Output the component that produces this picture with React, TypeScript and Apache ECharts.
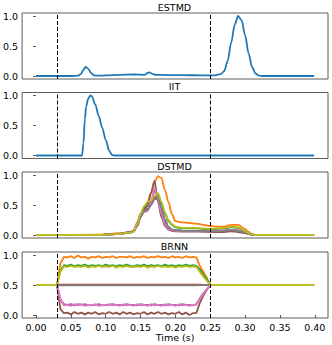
import React, { useEffect, useRef } from "react";
import * as echarts from "echarts";

const COLORS = ["#1f77b4", "#ff7f0e", "#2ca02c", "#d62728", "#9467bd", "#8c564b", "#e377c2", "#7f7f7f", "#bcbd22"];
const TITLES = ["ESTMD", "IIT", "DSTMD", "BRNN"];
const X_TICKS = [0, 0.05, 0.1, 0.15, 0.2, 0.25, 0.3, 0.35, 0.4];
const Y_TICKS = [0, 0.5, 1.0];
const STIM_LINES = [0.03, 0.25];

// ESTMD (time, value)
const estmd: number[][] = [
  [0, 0], [0.05, 0], [0.06, 0.005], [0.064, 0.03], [0.068, 0.1], [0.071, 0.15], [0.075, 0.12],
  [0.079, 0.05], [0.083, 0.01], [0.09, 0.005], [0.1, 0.01], [0.12, 0.02], [0.14, 0.025],
  [0.156, 0.02], [0.16, 0.05], [0.163, 0.06], [0.167, 0.035], [0.172, 0.02], [0.19, 0.015],
  [0.21, 0.015], [0.24, 0.01], [0.255, 0.01], [0.265, 0.03], [0.27, 0.08], [0.275, 0.25],
  [0.28, 0.55], [0.285, 0.85], [0.29, 1.0], [0.295, 0.93], [0.3, 0.68], [0.305, 0.38],
  [0.31, 0.15], [0.315, 0.04], [0.32, 0.005], [0.325, 0], [0.399, 0],
];

// IIT (time, value)
const iit: number[][] = [
  [0, 0], [0.066, 0], [0.068, 0.2], [0.07, 0.6], [0.072, 0.82], [0.075, 0.95], [0.078, 1.0],
  [0.08, 0.99], [0.085, 0.85], [0.09, 0.66], [0.095, 0.46], [0.1, 0.26], [0.105, 0.08],
  [0.109, 0.01], [0.112, 0], [0.399, 0],
];

// DSTMD
const dT = [0, 0.09, 0.12, 0.135, 0.14, 0.145, 0.15, 0.155, 0.16, 0.165, 0.17, 0.175, 0.18, 0.185, 0.19, 0.195, 0.2, 0.21, 0.22, 0.23, 0.24, 0.25, 0.26, 0.27, 0.28, 0.29, 0.3, 0.305, 0.31, 0.315, 0.399];
const dBlue   = [0, 0, 0.02, 0.04, 0.06, 0.15, 0.3, 0.4, 0.42, 0.5, 0.6, 0.62, 0.45, 0.25, 0.13, 0.09, 0.08, 0.07, 0.07, 0.07, 0.06, 0.06, 0.06, 0.07, 0.08, 0.07, 0.04, 0.02, 0.005, 0, 0];
const dOrange = [0, 0.005, 0.03, 0.05, 0.06, 0.15, 0.35, 0.45, 0.55, 0.7, 0.88, 0.98, 0.95, 0.75, 0.55, 0.35, 0.23, 0.21, 0.2, 0.19, 0.17, 0.15, 0.14, 0.14, 0.17, 0.17, 0.1, 0.05, 0.01, 0, 0];
const dGreen  = [0, 0, 0.02, 0.04, 0.06, 0.17, 0.33, 0.46, 0.53, 0.56, 0.63, 0.68, 0.53, 0.36, 0.23, 0.17, 0.13, 0.11, 0.11, 0.11, 0.1, 0.09, 0.1, 0.11, 0.13, 0.12, 0.06, 0.03, 0.01, 0, 0];
const dRed    = [0, 0, 0.02, 0.04, 0.06, 0.15, 0.3, 0.4, 0.43, 0.52, 0.62, 0.6, 0.42, 0.22, 0.12, 0.08, 0.07, 0.07, 0.07, 0.07, 0.06, 0.06, 0.06, 0.07, 0.08, 0.07, 0.04, 0.02, 0.005, 0, 0];
const dPurple = [0, 0, 0.02, 0.04, 0.06, 0.17, 0.32, 0.4, 0.41, 0.53, 0.74, 0.62, 0.36, 0.19, 0.1, 0.08, 0.07, 0.06, 0.06, 0.06, 0.06, 0.06, 0.06, 0.07, 0.08, 0.07, 0.04, 0.02, 0.005, 0, 0];
const dBrown  = [0, 0, 0.02, 0.05, 0.07, 0.2, 0.35, 0.42, 0.48, 0.7, 0.9, 0.55, 0.3, 0.15, 0.09, 0.07, 0.06, 0.06, 0.06, 0.06, 0.06, 0.05, 0.05, 0.05, 0.06, 0.05, 0.03, 0.015, 0.005, 0, 0];
const dPink   = [0, 0, 0.02, 0.04, 0.06, 0.18, 0.32, 0.38, 0.4, 0.55, 0.78, 0.6, 0.35, 0.18, 0.1, 0.08, 0.07, 0.06, 0.06, 0.06, 0.06, 0.06, 0.07, 0.08, 0.09, 0.08, 0.04, 0.02, 0.005, 0, 0];
const dGray   = [0, 0, 0.02, 0.04, 0.06, 0.15, 0.3, 0.4, 0.42, 0.5, 0.6, 0.63, 0.45, 0.25, 0.13, 0.09, 0.08, 0.07, 0.07, 0.07, 0.06, 0.06, 0.06, 0.07, 0.08, 0.07, 0.04, 0.02, 0.005, 0, 0];
const dOlive  = [0, 0, 0.02, 0.04, 0.06, 0.18, 0.35, 0.48, 0.55, 0.58, 0.65, 0.7, 0.55, 0.38, 0.25, 0.18, 0.14, 0.12, 0.12, 0.12, 0.11, 0.1, 0.11, 0.12, 0.14, 0.13, 0.07, 0.03, 0.01, 0, 0];

// BRNN
const bT = [0, 0.03, 0.035, 0.04, 0.045, 0.05, 0.055, 0.06, 0.065, 0.07, 0.075, 0.08, 0.085, 0.09, 0.095, 0.1, 0.105, 0.11, 0.115, 0.12, 0.125, 0.13, 0.135, 0.14, 0.145, 0.15, 0.155, 0.16, 0.165, 0.17, 0.175, 0.18, 0.185, 0.19, 0.195, 0.2, 0.205, 0.21, 0.215, 0.22, 0.225, 0.23, 0.235, 0.24, 0.245, 0.25, 0.399];
const bBlue   = [0.5, 0.5, 0.5, 0.5, 0.5, 0.5, 0.5, 0.5, 0.5, 0.5, 0.5, 0.5, 0.5, 0.5, 0.5, 0.5, 0.5, 0.5, 0.5, 0.5, 0.5, 0.5, 0.5, 0.5, 0.5, 0.5, 0.5, 0.5, 0.5, 0.5, 0.5, 0.5, 0.5, 0.5, 0.5, 0.5, 0.5, 0.5, 0.5, 0.5, 0.5, 0.5, 0.5, 0.5, 0.5, 0.5, 0.5];
const bOrange = [0.5, 0.5, 0.86, 0.97, 0.96, 0.98, 0.95, 0.99, 0.96, 0.97, 0.94, 0.97, 0.96, 0.98, 0.95, 0.97, 0.96, 0.98, 0.95, 0.97, 0.97, 0.96, 0.98, 0.95, 0.97, 0.96, 0.98, 0.95, 0.97, 0.96, 0.98, 0.96, 0.97, 0.95, 0.98, 0.96, 0.97, 0.95, 0.98, 0.96, 0.97, 0.96, 0.82, 0.72, 0.62, 0.5, 0.5];
const bGreen  = [0.5, 0.5, 0.74, 0.83, 0.82, 0.84, 0.81, 0.83, 0.82, 0.84, 0.81, 0.83, 0.82, 0.83, 0.81, 0.84, 0.82, 0.83, 0.81, 0.83, 0.82, 0.84, 0.82, 0.81, 0.83, 0.82, 0.84, 0.81, 0.83, 0.82, 0.83, 0.81, 0.84, 0.82, 0.83, 0.81, 0.83, 0.82, 0.84, 0.82, 0.83, 0.82, 0.76, 0.68, 0.6, 0.5, 0.5];
const bRed    = [0.5, 0.5, 0.506, 0.506, 0.506, 0.506, 0.506, 0.506, 0.506, 0.506, 0.506, 0.506, 0.506, 0.506, 0.506, 0.506, 0.506, 0.506, 0.506, 0.506, 0.506, 0.506, 0.506, 0.506, 0.506, 0.506, 0.506, 0.506, 0.506, 0.506, 0.506, 0.506, 0.506, 0.506, 0.506, 0.506, 0.506, 0.506, 0.506, 0.506, 0.506, 0.506, 0.505, 0.503, 0.502, 0.5, 0.5];
const bPurple = [0.5, 0.5, 0.26, 0.18, 0.17, 0.18, 0.16, 0.18, 0.17, 0.18, 0.16, 0.17, 0.17, 0.18, 0.16, 0.17, 0.17, 0.18, 0.17, 0.17, 0.16, 0.18, 0.17, 0.17, 0.16, 0.18, 0.17, 0.17, 0.16, 0.18, 0.17, 0.17, 0.16, 0.18, 0.17, 0.17, 0.16, 0.18, 0.17, 0.17, 0.16, 0.18, 0.28, 0.36, 0.43, 0.5, 0.5];
const bBrown  = [0.5, 0.5, 0.1, 0.03, 0.04, 0.01, 0.05, 0.02, 0.04, 0.01, 0.04, 0.02, 0.05, 0.01, 0.03, 0.02, 0.05, 0.02, 0.04, 0.01, 0.05, 0.02, 0.04, 0.01, 0.03, 0.02, 0.05, 0.01, 0.04, 0.02, 0.05, 0.02, 0.04, 0.01, 0.03, 0.02, 0.05, 0.01, 0.04, 0.0, 0.03, 0.03, 0.2, 0.32, 0.42, 0.5, 0.5];
const bPink   = [0.5, 0.5, 0.25, 0.16, 0.17, 0.15, 0.18, 0.16, 0.18, 0.15, 0.17, 0.16, 0.18, 0.15, 0.17, 0.16, 0.18, 0.16, 0.17, 0.15, 0.18, 0.16, 0.17, 0.15, 0.18, 0.16, 0.17, 0.15, 0.18, 0.16, 0.17, 0.15, 0.18, 0.16, 0.17, 0.15, 0.18, 0.16, 0.17, 0.15, 0.17, 0.17, 0.27, 0.35, 0.43, 0.5, 0.5];
const bGray   = [0.5, 0.5, 0.496, 0.496, 0.496, 0.496, 0.496, 0.496, 0.496, 0.496, 0.496, 0.496, 0.496, 0.496, 0.496, 0.496, 0.496, 0.496, 0.496, 0.496, 0.496, 0.496, 0.496, 0.496, 0.496, 0.496, 0.496, 0.496, 0.496, 0.496, 0.496, 0.496, 0.496, 0.496, 0.496, 0.496, 0.496, 0.496, 0.496, 0.496, 0.496, 0.496, 0.497, 0.498, 0.499, 0.5, 0.5];
const bOlive  = [0.5, 0.5, 0.72, 0.81, 0.8, 0.82, 0.8, 0.81, 0.8, 0.82, 0.79, 0.81, 0.8, 0.82, 0.8, 0.81, 0.8, 0.82, 0.79, 0.81, 0.8, 0.82, 0.8, 0.8, 0.81, 0.8, 0.82, 0.79, 0.81, 0.8, 0.82, 0.8, 0.81, 0.8, 0.81, 0.79, 0.81, 0.8, 0.82, 0.8, 0.81, 0.8, 0.72, 0.64, 0.57, 0.5, 0.5];

const DSTMD_SERIES = [dBlue, dOrange, dGreen, dRed, dPurple, dBrown, dPink, dGray, dOlive];
const BRNN_SERIES = [bBlue, bOrange, bGreen, bRed, bPurple, bBrown, bPink, bGray, bOlive];

const FONT = "DejaVu Sans";
const GRID_TOPS = [13, 92.5, 172, 252];
const GRID_H = 66;
const GRID_LEFT = 21;
const GRID_W = 307;

function zip(t: number[], v: number[]) {
  return t.map((x, i) => [x, v[i]]);
}

export default function App() {
  const ref = useRef<HTMLDivElement>(null);
  useEffect(() => {
    if (!ref.current) return;
    const chart = echarts.init(ref.current, null, { renderer: "svg" });

    const grids = GRID_TOPS.map((top) => ({
      left: GRID_LEFT, top, width: GRID_W, height: GRID_H,
      show: true, borderColor: "#333", borderWidth: 0.8, backgroundColor: "transparent",
    }));

    const xAxes = GRID_TOPS.map((_, i) => ({
      type: "value", gridIndex: i, min: -0.02, max: 0.419,
      show: true,
      axisLine: { show: false },
      splitLine: { show: false },
      axisTick: i === 3 ? { show: true, length: 3, lineStyle: { color: "#333", width: 0.8 }, customValues: X_TICKS } : { show: false },
      axisLabel: i === 3
        ? { show: true, customValues: X_TICKS, formatter: (v: number) => v.toFixed(2), fontFamily: FONT, fontSize: 9.5, color: "#000", margin: 4 }
        : { show: false },
      name: i === 3 ? "Time (s)" : "",
      nameLocation: "middle",
      nameGap: 13,
      nameTextStyle: { fontFamily: FONT, fontSize: 9.5, color: "#000" },
    }));

    const yAxes = GRID_TOPS.map((_, i) => ({
      type: "value", gridIndex: i, min: -0.05, max: 1.05,
      axisLine: { show: false },
      splitLine: { show: false },
      axisTick: { show: true, length: 3, lineStyle: { color: "#333", width: 0.8 }, customValues: Y_TICKS },
      axisLabel: { customValues: Y_TICKS, formatter: (v: number) => v.toFixed(1), fontFamily: FONT, fontSize: 9.5, color: "#000", margin: 4 },
    }));

    const markLine = {
      silent: true,
      symbol: ["none", "none"],
      label: { show: false },
      lineStyle: { color: "#000", type: [4, 2], width: 1 },
      data: STIM_LINES.map((x) => ({ xAxis: x })),
      z: 10,
    };

    const lineBase = { type: "line", showSymbol: false, symbol: "none", smooth: 0.3, smoothMonotone: "x", lineStyle: { width: 1.8 } };

    const series: any[] = [];
    series.push({ ...lineBase, xAxisIndex: 0, yAxisIndex: 0, data: estmd, color: COLORS[0], markLine });
    series.push({ ...lineBase, xAxisIndex: 1, yAxisIndex: 1, data: iit, color: COLORS[0], markLine });
    DSTMD_SERIES.forEach((s, k) => {
      series.push({ ...lineBase, xAxisIndex: 2, yAxisIndex: 2, data: zip(dT, s), color: COLORS[k], ...(k === DSTMD_SERIES.length - 1 ? { markLine } : {}) });
    });
    BRNN_SERIES.forEach((s, k) => {
      series.push({ ...lineBase, smooth: false, xAxisIndex: 3, yAxisIndex: 3, data: zip(bT, s), color: COLORS[k], ...(k === BRNN_SERIES.length - 1 ? { markLine } : {}) });
    });

    const graphic = TITLES.map((t, i) => ({
      type: "text",
      x: GRID_LEFT + GRID_W / 2,
      y: GRID_TOPS[i] - 6,
      style: { text: t, fontFamily: FONT, fontSize: 9.5, fill: "#000", align: "center", verticalAlign: "middle" },
    }));

    chart.setOption({
      animation: false,
      backgroundColor: "#fff",
      grid: grids,
      xAxis: xAxes,
      yAxis: yAxes,
      series,
      graphic,
    });
    return () => chart.dispose();
  }, []);
  return <div ref={ref} style={{ position: "fixed", left: 0, top: 0, width: 332, height: 345 }} />;
}
